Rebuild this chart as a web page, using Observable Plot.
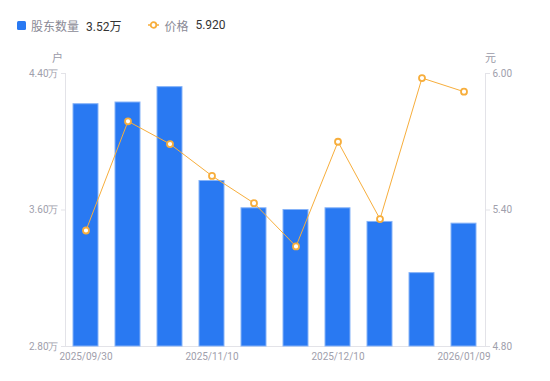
<!DOCTYPE html>
<html>
<head>
<meta charset="utf-8">
<script src="https://cdn.jsdelivr.net/npm/d3@7"></script>
<script src="https://cdn.jsdelivr.net/npm/@observablehq/plot@0.6"></script>
<style>
  html, body { margin: 0; padding: 0; background: #fff; }
  body { width: 550px; height: 381px; position: relative; overflow: hidden;
         font-family: "Noto Sans CJK SC", "Noto Sans", Roboto, sans-serif; }
  #chart { position: absolute; left: 0; top: 0; }
  .legend { position: absolute; top: 16px; left: 17px; font-size: 12px; display: flex; align-items: center; height: 18px; }
  .legend .item { display: flex; align-items: center; }
  .legend .sw { width: 9px; height: 9px; background: #2979f2; border-radius: 1.5px; margin-right: 5px; }
  .legend .name { color: #8a8a96; margin-right: 7px; }
  .legend .val { color: #333; font-family: Roboto, "Noto Sans CJK SC", sans-serif; }
  .legend svg { margin-right: 5px; }
  .unit { position: absolute; top: 49px; font-size: 11px; color: #9a9aa8; }
</style>
</head>
<body>
<div id="chart"></div>
<div class="legend">
  <div class="item"><span class="sw"></span><span class="name">股东数量</span><span class="val">3.52万</span></div>
  <div class="item" style="margin-left:27px"><svg width="11" height="10"><line x1="0" y1="5" x2="11" y2="5" stroke="#f7ae3c" stroke-width="1.5"/><circle cx="5.5" cy="5" r="2.8" fill="#fff" stroke="#f7ae3c" stroke-width="1.8"/></svg><span class="name">价格</span><span class="val">5.920</span></div>
</div>
<div class="unit" style="left:52px">户</div>
<div class="unit" style="left:485px">元</div>
<script>
const dates = ["2025/09/30","2025/10/20","2025/10/31","2025/11/10","2025/11/20","2025/11/28","2025/12/10","2025/12/19","2025/12/31","2026/01/09"];
const holders = [4.22, 4.23, 4.32, 3.77, 3.61, 3.60, 3.61, 3.53, 3.23, 3.52]; // 万户
const prices = [5.31, 5.79, 5.69, 5.55, 5.43, 5.24, 5.70, 5.36, 5.98, 5.92]; // 元
const shownDates = ["2025/09/30","2025/11/10","2025/12/10","2026/01/09"];
const leftTicks = [2.8, 3.6, 4.4];
const rightTicks = [4.8, 5.4, 6.0];

const yMin = 2.8, yMax = 4.4, pMin = 4.8, pMax = 6.0;
const toY = p => yMin + (p - pMin) / (pMax - pMin) * (yMax - yMin);
const fromY = y => pMin + (y - yMin) / (yMax - yMin) * (pMax - pMin);

const data = dates.map((d, i) => ({date: d, holders: holders[i], price: prices[i]}));

const axisColor = "#e3e3e8";
const textColor = "#a0a0ac";

const chart = Plot.plot({
  width: 550,
  height: 381,
  marginTop: 73,
  marginBottom: 35,
  marginLeft: 65,
  marginRight: 65,
  style: {fontFamily: "Roboto, 'Noto Sans', sans-serif", fontSize: "10px", background: "transparent"},
  x: {type: "band", domain: dates, paddingInner: 0.4, paddingOuter: 0.2, axis: null},
  y: {domain: [yMin, yMax], axis: null},
  marks: [
    Plot.ruleY([yMin], {stroke: axisColor}),
    Plot.frame({anchor: "left", stroke: axisColor}),
    Plot.frame({anchor: "right", stroke: axisColor}),
    Plot.barY(data, {x: "date", y1: yMin, y2: "holders", fill: "#2979f2", stroke: "#86b3f8", strokeWidth: 1}),
    Plot.line(data, {x: "date", y: d => toY(d.price), stroke: "#f7ae3c", strokeWidth: 1}),
    Plot.dot(data, {x: "date", y: d => toY(d.price), r: 3, fill: "#fff", stroke: "#f7ae3c", strokeWidth: 1.8}),
    Plot.axisY({anchor: "left", ticks: leftTicks, tickFormat: d => d.toFixed(2) + "万", tickSize: 4, tickPadding: 3, stroke: axisColor, fill: textColor, label: null}),
    Plot.axisY({anchor: "right", ticks: rightTicks.map(toY), tickFormat: d => fromY(d).toFixed(2), tickSize: 4, tickPadding: 3, stroke: axisColor, fill: textColor, label: null}),
    Plot.axisX({ticks: shownDates, tickSize: 0, tickPadding: 6, fill: textColor, label: null})
  ]
});
document.getElementById("chart").appendChild(chart);
</script>
</body>
</html>
